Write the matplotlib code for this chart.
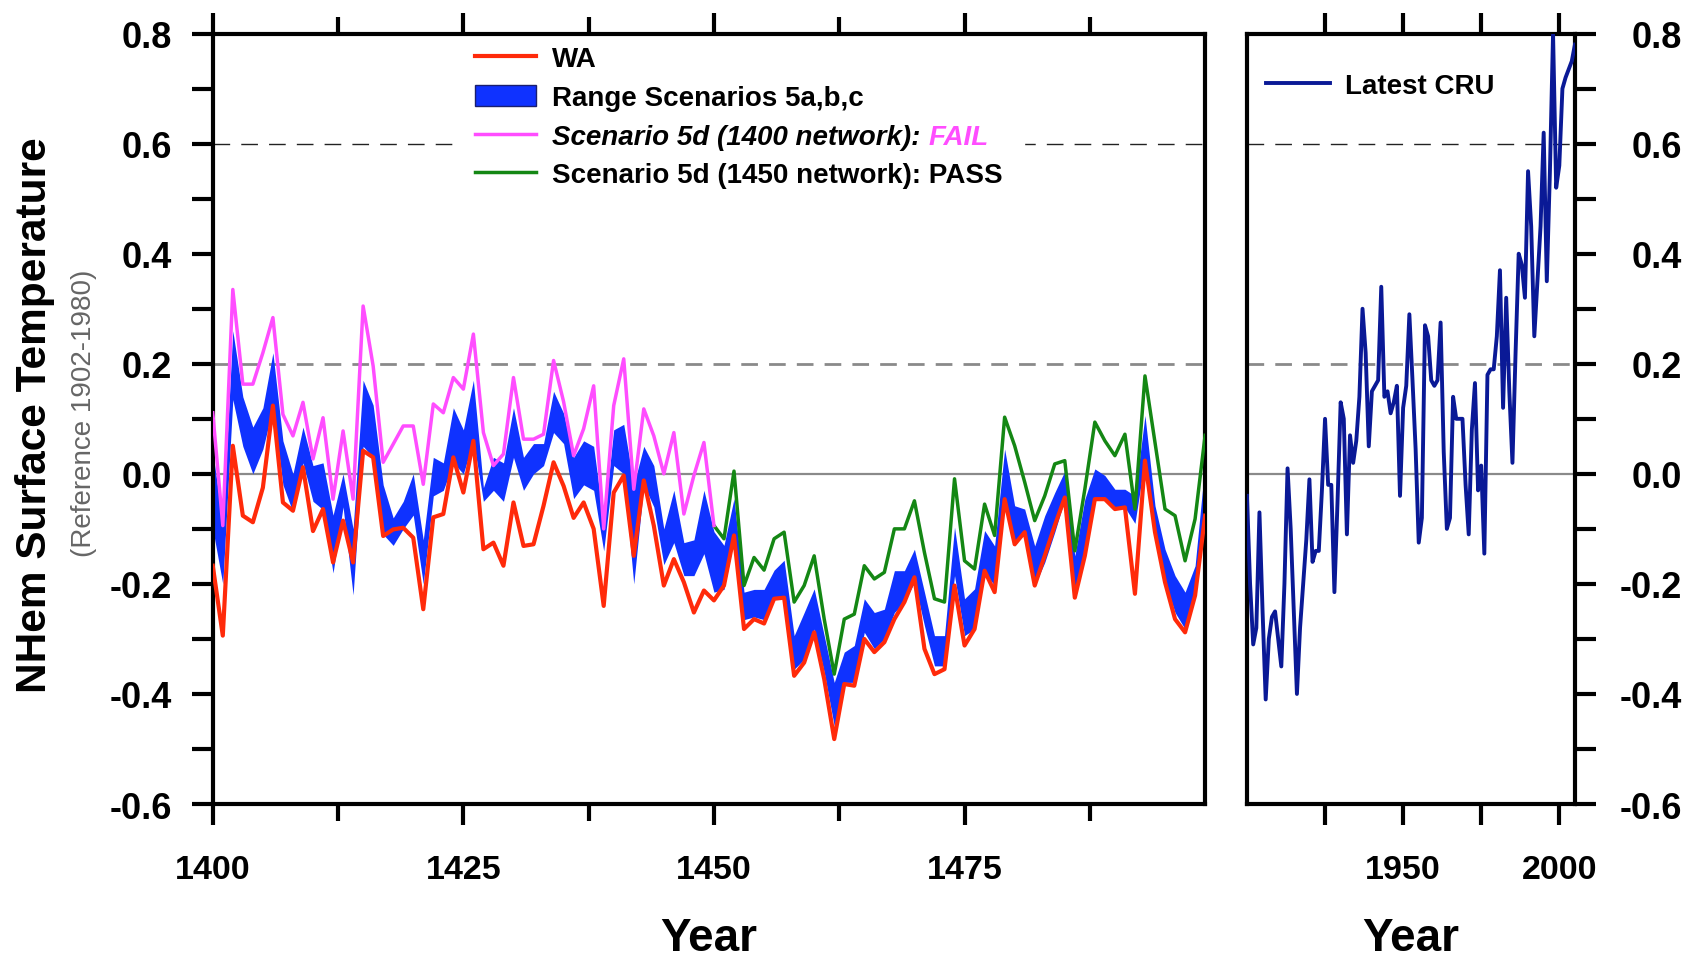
"""
plot.py
-------
NHem surface temperature reconstruction, 1400-1499 (scenario tests)
plus the latest CRU instrumental record on a side panel.
"""

import matplotlib

matplotlib.use("Agg")
import matplotlib.pyplot as plt
import numpy as np
from matplotlib import font_manager
from matplotlib.patches import Patch
from matplotlib.ticker import MultipleLocator

# ── data ──────────────────────────────────────────────────────────────────
years = np.arange(1400, 1500)

wa = [
    -0.167, -0.294, 0.051, -0.076, -0.088, -0.025, 0.124, -0.052, -0.067, 0.012,
    -0.104, -0.064, -0.161, -0.085, -0.161, 0.042, 0.030, -0.113, -0.101, -0.098,
    -0.116, -0.246, -0.079, -0.073, 0.030, -0.034, 0.060, -0.137, -0.125, -0.167,
    -0.052, -0.131, -0.128, -0.058, 0.021, -0.022, -0.080, -0.052, -0.100, -0.240,
    -0.034, -0.003, -0.149, -0.012, -0.094, -0.203, -0.155, -0.197, -0.252, -0.212,
    -0.230, -0.203, -0.112, -0.282, -0.264, -0.272, -0.227, -0.225, -0.367, -0.343,
    -0.288, -0.373, -0.482, -0.382, -0.385, -0.300, -0.324, -0.306, -0.264, -0.233,
    -0.188, -0.318, -0.364, -0.355, -0.203, -0.312, -0.282, -0.176, -0.215, -0.046,
    -0.128, -0.106, -0.203, -0.149, -0.094, -0.043, -0.225, -0.149, -0.046, -0.046,
    -0.064, -0.061, -0.218, 0.024, -0.106, -0.197, -0.264, -0.288, -0.221, -0.076,
]

range_hi = [
    0.04, -0.09, 0.26, 0.14, 0.085, 0.12, 0.22, 0.06, 0.0, 0.085,
    0.015, 0.02, -0.075, 0.0, -0.10, 0.17, 0.125, -0.02, -0.08, -0.05,
    0.0, -0.12, 0.03, 0.02, 0.12, 0.08, 0.17, -0.025, 0.03, 0.02,
    0.12, 0.03, 0.055, 0.055, 0.15, 0.11, 0.03, 0.06, 0.05, -0.09,
    0.08, 0.09, -0.02, 0.05, 0.015, -0.10, -0.03, -0.125, -0.12, -0.03,
    -0.105, -0.13, -0.045, -0.215, -0.21, -0.21, -0.175, -0.157, -0.294, -0.252,
    -0.209, -0.294, -0.379, -0.324, -0.312, -0.227, -0.252, -0.246, -0.176, -0.176,
    -0.137, -0.215, -0.294, -0.294, -0.097, -0.227, -0.209, -0.103, -0.131, 0.045,
    -0.058, -0.064, -0.131, -0.076, -0.034, 0.005, -0.149, -0.046, 0.009, -0.003,
    -0.028, -0.028, -0.04, 0.106, -0.058, -0.137, -0.185, -0.215, -0.167, 0.021,
]

range_lo = [
    -0.10, -0.20, 0.135, 0.05, 0.0, 0.045, 0.12, -0.02, -0.07, 0.02,
    -0.05, -0.065, -0.18, -0.06, -0.22, 0.05, 0.03, -0.11, -0.13, -0.10,
    -0.075, -0.20, -0.04, -0.03, 0.02, 0.0, 0.06, -0.05, -0.03, -0.05,
    0.03, -0.03, 0.0, 0.015, 0.075, 0.055, -0.045, -0.02, -0.03, -0.14,
    0.015, 0.0, -0.20, -0.02, -0.06, -0.165, -0.125, -0.185, -0.185, -0.145,
    -0.215, -0.21, -0.12, -0.265, -0.26, -0.265, -0.228, -0.221, -0.355, -0.337,
    -0.282, -0.361, -0.458, -0.379, -0.379, -0.288, -0.318, -0.300, -0.252, -0.233,
    -0.197, -0.276, -0.349, -0.349, -0.185, -0.294, -0.282, -0.179, -0.203, -0.046,
    -0.131, -0.106, -0.203, -0.161, -0.106, -0.046, -0.215, -0.149, -0.046, -0.046,
    -0.064, -0.061, -0.09, 0.027, -0.106, -0.197, -0.252, -0.282, -0.215, -0.064,
]

years_1400net = np.arange(1400, 1451)
scen_1400 = [
    0.111, -0.094, 0.335, 0.163, 0.163, 0.220, 0.284, 0.108, 0.069, 0.130,
    0.027, 0.102, -0.046, 0.078, -0.046, 0.305, 0.196, 0.021, 0.054, 0.087,
    0.087, -0.019, 0.127, 0.111, 0.175, 0.154, 0.254, 0.075, 0.015, 0.036,
    0.175, 0.063, 0.063, 0.072, 0.206, 0.131, 0.033, 0.082, 0.160, -0.100,
    0.124, 0.209, -0.028, 0.118, 0.069, 0.0, 0.075, -0.073, -0.003, 0.057,
    -0.094,
]

years_1450net = np.arange(1450, 1500)
scen_1450 = [
    -0.094, -0.118, 0.005, -0.203, -0.152, -0.175, -0.118, -0.106, -0.233, -0.203,
    -0.149, -0.264, -0.364, -0.264, -0.255, -0.167, -0.191, -0.179, -0.100, -0.100,
    -0.049, -0.143, -0.227, -0.233, -0.009, -0.158, -0.173, -0.055, -0.112, 0.103,
    0.051, -0.015, -0.085, -0.040, 0.018, 0.024, -0.140, -0.028, 0.094, 0.060,
    0.033, 0.072, -0.064, 0.178, 0.057, -0.064, -0.076, -0.158, -0.082, 0.070,
]

cru_years = np.arange(1900, 2006)
cru = [
    -0.04, -0.20, -0.31, -0.28, -0.07, -0.25, -0.41, -0.30, -0.26, -0.25,
    -0.30, -0.35, -0.20, 0.01, -0.10, -0.25, -0.40, -0.28, -0.20, -0.12,
    -0.01, -0.16, -0.14, -0.14, -0.03, 0.10, -0.02, -0.02, -0.215, -0.05,
    0.13, 0.10, -0.11, 0.07, 0.02, 0.06, 0.14, 0.30, 0.22, 0.05,
    0.15, 0.16, 0.17, 0.34, 0.14, 0.15, 0.11, 0.13, 0.16, -0.04,
    0.12, 0.16, 0.29, 0.17, 0.045, -0.125, -0.08, 0.27, 0.25, 0.17,
    0.16, 0.17, 0.275, 0.04, -0.10, -0.08, 0.14, 0.10, 0.10, 0.10,
    -0.02, -0.11, 0.08, 0.165, -0.03, 0.015, -0.145, 0.18, 0.19, 0.19,
    0.25, 0.37, 0.12, 0.32, 0.15, 0.02, 0.22, 0.40, 0.38, 0.32,
    0.55, 0.45, 0.25, 0.35, 0.45, 0.62, 0.35, 0.55, 0.80, 0.52,
    0.56, 0.70, 0.72, 0.735, 0.75, 0.78,
]

left_xticks = [1400, 1425, 1450, 1475]
right_xticks = [1925, 1950, 1975, 2000]
right_xlabels = ["", "1950", "", "2000"]

# ── colours / fonts ───────────────────────────────────────────────────────
RED = "#ff2a0a"
BLUE = "#0f32ff"
MAGENTA = "#ff4dff"
GREEN = "#148714"
NAVY = "#0a1996"


def pick_font(names, default="DejaVu Sans"):
    for name in names:
        try:
            font_manager.findfont(name, fallback_to_default=False)
            return name
        except ValueError:
            continue
    return default


BASE = pick_font(["Liberation Sans", "Arial"])

plt.rcParams["font.family"] = [BASE, "DejaVu Sans"]
plt.rcParams["font.weight"] = "bold"
plt.rcParams["axes.axisbelow"] = False   # ticks above the legend frame

XTICK_FS = 24.5
YTICK_FS = 26
LEG_FS = 20
XLABEL_FS = 33


def style_axes(ax):
    for spine in ax.spines.values():
        spine.set_linewidth(3)
    ax.set_ylim(-0.6, 0.8)
    ax.yaxis.set_major_locator(MultipleLocator(0.2))
    ax.yaxis.set_minor_locator(MultipleLocator(0.1))
    ax.yaxis.set_major_formatter(lambda v, pos: f"{v:.1f}")
    ax.tick_params(which="both", direction="out", width=3, length=15)
    ax.tick_params(axis="x", labelsize=XTICK_FS)
    ax.tick_params(axis="y", labelsize=YTICK_FS)
    # reference lines
    ax.axhline(0.6, color="#222222", lw=1.0, ls=(0, (12, 8)), zorder=1)
    ax.axhline(0.2, color="#8a8a8a", lw=2.0, ls=(0, (6, 4)), zorder=1)
    ax.axhline(0.0, color="#8a8a8a", lw=1.6, zorder=1)


fig = plt.figure(figsize=(16.94, 9.62), dpi=100)
ax1 = fig.add_axes([0.1256, 0.1632, 0.5858, 0.8008])
ax2 = fig.add_axes([0.7361, 0.1632, 0.1936, 0.8008])

# ── left panel: 1400-1499 ────────────────────────────────────────────────
style_axes(ax1)
ax1.fill_between(years, range_lo, range_hi, color=BLUE, lw=0, zorder=2)
h_15, = ax1.plot(years_1450net, scen_1450, color=GREEN, lw=2.5, zorder=3)
h_14, = ax1.plot(years_1400net, scen_1400, color=MAGENTA, lw=2.5, zorder=3)
h_wa, = ax1.plot(years, wa, color=RED, lw=3.0, zorder=4)

ax1.set_xlim(1400, 1499)
ax1.set_xticks(left_xticks)
ax1.xaxis.set_minor_locator(MultipleLocator(12.5))
ax1.tick_params(axis="x", which="minor", length=12)
ax1.tick_params(axis="x", which="both", top=True, labeltop=False, pad=21)
ax1.tick_params(axis="y", which="both", right=False, pad=14)
ax1.set_xlabel("Year", fontsize=XLABEL_FS, fontweight="bold", labelpad=22)

band_proxy = Patch(facecolor=BLUE, edgecolor="#1a1f6e", lw=1.0)
leg = ax1.legend(
    [h_wa, band_proxy, h_14, h_15],
    ["WA", "Range Scenarios 5a,b,c", "Scenario 5d (1400 network):",
     "Scenario 5d (1450 network): PASS"],
    loc="upper left", bbox_to_anchor=(0.242, 1.013),
    frameon=True, fancybox=False, framealpha=1,
    facecolor="white", edgecolor="white",
    borderpad=0.8, borderaxespad=0, handlelength=2.2, handleheight=0.8,
    handletextpad=0.55, labelspacing=0.45,
    prop=dict(family=BASE, weight="bold", size=LEG_FS),
)
leg.set_zorder(2.3)
fail_label = leg.get_texts()[2]
fail_label.set_style("italic")
ax1.annotate("FAIL", xy=(1, 0), xycoords=fail_label,
             xytext=(6, 0), textcoords="offset points",
             ha="left", va="bottom", color=MAGENTA, fontsize=LEG_FS,
             fontweight="bold", fontstyle="italic", zorder=6,
             annotation_clip=False)

# ── right panel: CRU instrumental ───────────────────────────────────────
style_axes(ax2)
h_cru, = ax2.plot(cru_years, cru, color=NAVY, lw=2.8, zorder=3)
ax2.set_xlim(1900, 2005)
ax2.set_xticks(right_xticks, right_xlabels)
ax2.yaxis.tick_right()
ax2.tick_params(axis="x", which="both", top=True, labeltop=False, pad=21)
ax2.tick_params(axis="y", which="both", left=False, right=True,
                labelright=True, pad=62)
for tick in ax2.yaxis.get_major_ticks():
    tick.label2.set_horizontalalignment("right")
ax2.set_xlabel("Year", fontsize=XLABEL_FS, fontweight="bold", labelpad=22)
ax2.legend([h_cru], ["Latest CRU"], loc="upper left",
           bbox_to_anchor=(0.058, 0.949), frameon=False, borderpad=0,
           borderaxespad=0, handlelength=2.3, handletextpad=0.55,
           prop=dict(family=BASE, weight="bold", size=LEG_FS))

# ── y-axis title (shared) ────────────────────────────────────────────────
fig.text(0.0204, 0.5686, "NHem Surface Temperature", rotation=90,
         ha="center", va="center", fontsize=30.5, fontweight="bold")
fig.text(0.0496, 0.5707, "(Reference 1902-1980)", rotation=90,
         ha="center", va="center", fontsize=20, fontweight="normal",
         color="#666666")

fig.savefig("out.png", dpi=100)
